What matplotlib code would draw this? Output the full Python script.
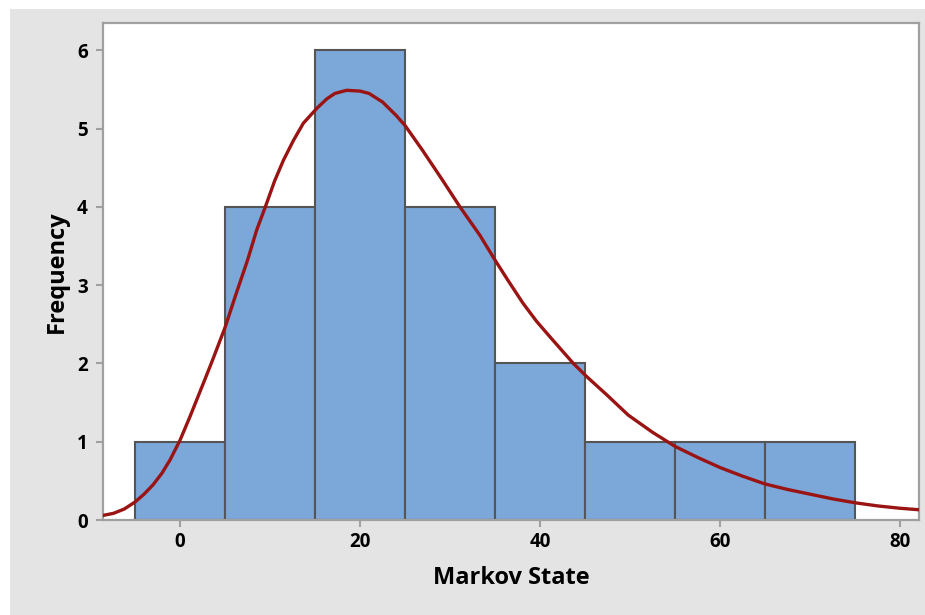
import matplotlib.pyplot as plt
from matplotlib.patches import Rectangle

# histogram bins (midpoints) and counts
bin_mids = [0, 10, 20, 30, 40, 50, 60, 70]
counts = [1, 4, 6, 4, 2, 1, 1, 1]
bin_width = 10

# fitted curve
curve_x = [-8.5, -7.4, -6.2, -5, -4, -3, -2, -1.1, 0, 1.1, 2.6, 3.5, 5, 6.2, 7.5, 8.5,
           9.6, 10.5, 11.5, 12.6, 13.7, 15.2, 16.3, 17.2, 18.5, 20, 21, 22.5, 24, 25, 26.9,
           29, 31.1, 33.3, 35, 36.5, 38.1, 39.6, 41.1, 43.7, 45.2, 47.4, 49.8, 52.5, 55,
           57.5, 60, 62.5, 65, 67.5, 70, 72.5, 75, 77.5, 80, 82.2]
curve_y = [0.06, 0.085, 0.14, 0.23, 0.33, 0.45, 0.6, 0.77, 1.02, 1.32, 1.75, 2.01, 2.46,
           2.88, 3.32, 3.7, 4.04, 4.33, 4.6, 4.85, 5.07, 5.26, 5.38, 5.45, 5.49, 5.48,
           5.45, 5.34, 5.17, 5.04, 4.73, 4.37, 4.0, 3.64, 3.32, 3.05, 2.77, 2.54, 2.34,
           2.0, 1.83, 1.6, 1.34, 1.12, 0.94, 0.8, 0.67, 0.56, 0.46, 0.39, 0.33, 0.27, 0.22,
           0.18, 0.15, 0.13]

xticks = [0, 20, 40, 60, 80]
yticks = [0, 1, 2, 3, 4, 5, 6]

plt.rcParams['font.family'] = ['Open Sans', 'DejaVu Sans']

fig = plt.figure(figsize=(9.25, 6.15), dpi=100, facecolor='white')
# grey panel behind the plot
panel = Rectangle((10 / 925, 0), 1, 1 - 9 / 615, transform=fig.transFigure,
                  facecolor='#e4e4e4', edgecolor='none', zorder=-10)
fig.add_artist(panel)

ax = fig.add_axes([103 / 925, 95 / 615, 816 / 925, 497 / 615])
ax.set_facecolor('white')

ax.bar(bin_mids, counts, width=bin_width, color='#7ba7d9', edgecolor='#555555',
       linewidth=1.5, zorder=2)
ax.plot(curve_x, curve_y, color='#9a1414', linewidth=2.4, zorder=3)

ax.set_xlim(-8.56, 82.1)
ax.set_ylim(0, 6.35)
ax.set_xticks(xticks)
ax.set_yticks(yticks)
ax.tick_params(axis='both', colors='#a0a0a0', length=5, width=1.5, labelsize=13.5,
               labelcolor='black')
ax.tick_params(axis='y', pad=6)
for lbl in ax.get_xticklabels() + ax.get_yticklabels():
    lbl.set_fontweight('bold')

for side in ['left', 'bottom', 'top', 'right']:
    ax.spines[side].set_color('#a0a0a0')
    ax.spines[side].set_linewidth(1.6)

ax.set_xlabel('Markov State', fontsize=17, fontweight='bold', labelpad=10)
ax.set_ylabel('Frequency', fontsize=17, fontweight='bold', labelpad=6)

fig.savefig('out.png', dpi=100, facecolor=fig.get_facecolor())
